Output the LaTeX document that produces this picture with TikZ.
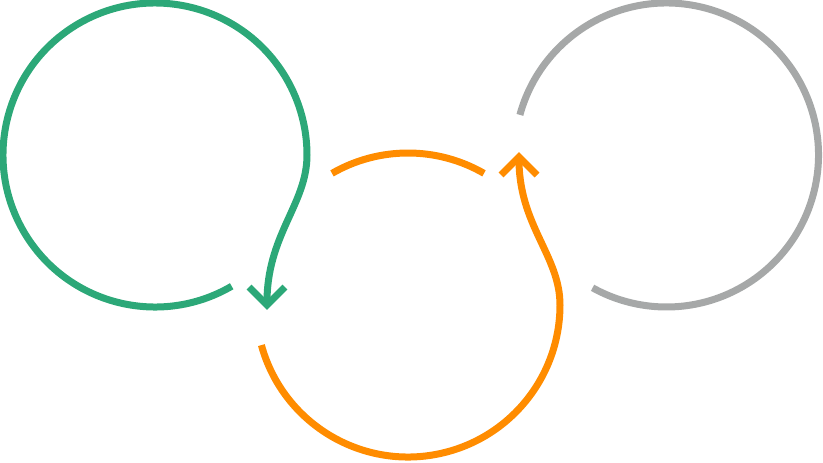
\documentclass[tikz,border=0pt]{standalone}
\definecolor{cgreen}{RGB}{44,168,120}
\definecolor{corange}{RGB}{255,140,0}
\definecolor{cgray}{RGB}{166,168,168}
\begin{document}
\begin{tikzpicture}[x=1pt,y=1pt,
  loop/.style={line width=7pt,line cap=butt},
  chev/.style={line width=7pt,line cap=butt,line join=miter}]
\useasboundingbox (0,0) rectangle (823,-463);
% green
\coordinate (gc) at (155,-155);
\coordinate (gt) at (267,-305);
\draw[loop,cgreen] (gc) ++(-59.7:152) arc[start angle=-59.7,end angle=-360,radius=152]
  .. controls (307,-205) and (266,-235) .. (gt);
\draw[chev,cgreen] (249,-287) -- (gt) -- (285,-287);
% orange
\coordinate (oc) at (408,-305);
\coordinate (ot) at (519,-157);
\draw[loop,corange] (oc) ++(195.3:152) arc[start angle=195.3,end angle=360,radius=152]
  .. controls (560,-255) and (518,-225) .. (ot);
\draw[loop,corange] (oc) ++(120:152) arc[start angle=120,end angle=60,radius=152];
\draw[chev,corange] (501,-175) -- (ot) -- (537,-175);
% gray
\coordinate (yc) at (666.5,-155);
\draw[loop,cgray] (yc) ++(164.7:152) arc[start angle=164.7,end angle=-119.1,radius=152];
\end{tikzpicture}
\end{document}
